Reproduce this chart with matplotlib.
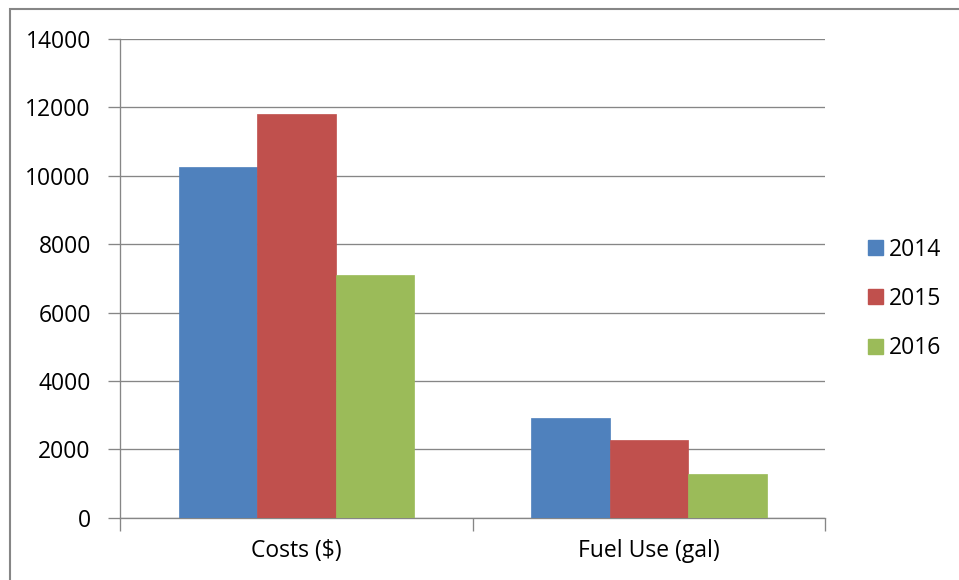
import matplotlib.pyplot as plt
from matplotlib.patches import Rectangle, Patch
import numpy as np

# Yearly vehicle costs and fuel use
categories = ["Costs ($)", "Fuel Use (gal)"]
years = ["2014", "2015", "2016"]
values_2014 = [10270, 2925]
values_2015 = [11800, 2265]
values_2016 = [7100, 1280]
y_ticks = [0, 2000, 4000, 6000, 8000, 10000, 12000, 14000]

series = [values_2014, values_2015, values_2016]
colors = ["#4F81BD", "#C0504D", "#9BBB59"]
axis_gray = "#868686"

plt.rcParams["font.family"] = ["Open Sans", "DejaVu Sans"]

fig = plt.figure(figsize=(9.59, 5.80), dpi=100)
ax = fig.add_axes([120 / 959, 1 - 517.7 / 580, 705.3 / 959, 478.7 / 580])

# grouped bars: each category spans one unit, bars fill 2/3 of it
centers = np.arange(len(categories)) + 0.5
bar_w = 2 / 9
for i, (vals, col) in enumerate(zip(series, colors)):
    ax.bar(centers + (i - 1) * bar_w, vals, width=bar_w, color=col,
           edgecolor=col, linewidth=0.5, zorder=3)

ax.set_xlim(0, len(categories))
ax.set_ylim(0, 14000)
ax.set_yticks(y_ticks)
ax.set_yticklabels([str(v) for v in y_ticks])
ax.yaxis.grid(True, color=axis_gray, linewidth=0.95, zorder=0)
ax.set_axisbelow(True)

# category boundaries carry the tick marks, labels sit between them
ax.set_xticks(np.arange(len(categories) + 1))
ax.set_xticklabels([])
ax.set_xticks(centers, minor=True)
ax.set_xticklabels(categories, minor=True)
ax.tick_params(axis="x", which="major", length=9, width=0.95, color=axis_gray)
ax.tick_params(axis="x", which="minor", length=0, pad=15, labelsize=16.5)
ax.tick_params(axis="y", length=9, width=0.95, color=axis_gray, pad=12,
               labelsize=16.5)

for side in ("top", "right"):
    ax.spines[side].set_visible(False)
for side in ("left", "bottom"):
    ax.spines[side].set_color(axis_gray)
    ax.spines[side].set_linewidth(0.95)

handles = [Patch(facecolor=c, edgecolor=c) for c in colors]
fig.legend(handles, years, loc="center left",
           bbox_to_anchor=(857 / 959, 1 - 299 / 580), frameon=False,
           fontsize=16.5, handlelength=0.63, handleheight=0.63,
           handletextpad=0.25, labelspacing=1.1, borderpad=0)

# chart area border
fig.patches.append(Rectangle((10 / 959, -0.1), 1.2, 1.1 - 9 / 580,
                             transform=fig.transFigure, fill=False,
                             edgecolor=axis_gray, linewidth=1.5))

fig.savefig("out.png", dpi=100, facecolor="white")
